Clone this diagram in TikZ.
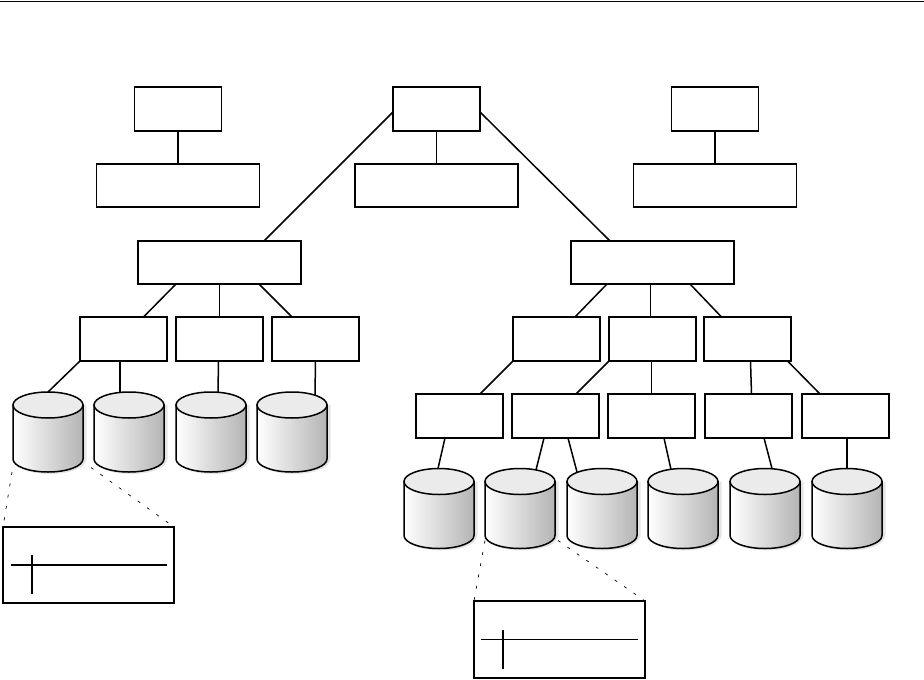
\documentclass[tikz,border=0pt]{standalone}
\usepackage{xcolor}
\definecolor{DiskTop}{HTML}{EBEBEB}
\definecolor{DiskSide}{HTML}{B4B4B4}
\usepackage{tikz}
\usetikzlibrary{positioning}
\tikzset{
  smallbox/.style={
    draw=black,
    fill=white,
    line width=1.5pt,
    inner sep=0pt,
    outer sep=0pt,
    minimum width=87pt,
    minimum height=44pt
  },
  widebox/.style={
    smallbox,
    minimum width=163pt,
    minimum height=43pt
  },
  detailbox/.style={
    smallbox,
    minimum width=171pt,
    minimum height=76pt
  },
  diskframe/.style={
    inner sep=0pt,
    outer sep=0pt,
    minimum width=70pt,
    minimum height=80pt
  },
  link/.style={
    line width=1.5pt,
    draw=black
  },
  zoomlink/.style={
    line width=0.7pt,
    draw=black,
    dash pattern=on 3pt off 8.5pt
  }
}
% disk: soft shadow, shaded body, light lid
\newcommand{\disknode}[2][]{
  \node[diskframe,#1] (#2) {};
  \fill[black!10] ([xshift=3.5pt,yshift=-13pt]#2.north west) -- ++(0,54) arc[start angle=180,end angle=360,x radius=35pt,y radius=13pt] -- ++(0,-54) -- cycle;
  \fill[black!10] ([xshift=2pt,yshift=-15pt]#2.north west) -- ++(0,54) arc[start angle=180,end angle=360,x radius=35pt,y radius=13pt] -- ++(0,-54) -- cycle;
  \draw[link,left color=white,right color=DiskSide] ([yshift=-13pt]#2.north west) -- ++(0,54) arc[start angle=180,end angle=360,x radius=35pt,y radius=13pt] -- ++(0,-54) -- cycle;
  \draw[link,fill=DiskTop] ([yshift=-13pt]#2.north) ellipse[x radius=35pt,y radius=13pt];
}

\begin{document}
\begin{tikzpicture}[x=1pt,y=-1pt,node distance=33pt and 8pt]
\useasboundingbox (0,0) rectangle (924,680);
\draw[line width=1pt] (0,1) -- (924,1);
% top row
\node[smallbox] (sitea) at (178,109) {};
\node[smallbox] (siteb) at (436.5,109) {};
\node[smallbox] (sitec) at (715,109) {};
\node[widebox, below=of sitea] (notea) {};
\node[widebox, below=of siteb] (noteb) {};
\node[widebox, below=of sitec] (notec) {};
% hubs
\node[widebox] (hubleft) at (219.5,262.5) {};
\node[widebox] (hubright) at (652.5,262.5) {};
% second row
\node[smallbox, below=of hubleft] (lb) {};
\node[smallbox, left=9pt of lb] (la) {};
\node[smallbox, right=9pt of lb] (lc) {};
\node[smallbox, below=of hubright] (rb) {};
\node[smallbox, left=9pt of rb] (ra) {};
\node[smallbox, right=of rb] (rc) {};
% third row
\node[smallbox, below=of ra, xshift=-1pt] (tb) {};
\node[smallbox, left=9pt of tb] (ta) {};
\node[smallbox, right=9pt of tb] (tc) {};
\node[smallbox, right=10pt of tc] (td) {};
\node[smallbox, right=10pt of td] (te) {};
% disks
\disknode[at={(48,432)}]{da}
\disknode[right=11pt of da]{db}
\disknode[right=12pt of db]{dc}
\disknode[right=11pt of dc]{dd}
\disknode[at={(439,508.5)}]{ea}
\disknode[right=11pt of ea]{eb}
\disknode[right=12pt of eb]{ec}
\disknode[right=11pt of ec]{ed}
\disknode[right=12pt of ed]{ee}
\disknode[right=12pt of ee]{ef}
% detail boxes
\node[detailbox] (detaila) at (88.5,565) {};
\node[detailbox, minimum height=77pt] (detailb) at (559.5,639.5) {};
% links
\draw[link] (sitea) -- (notea);
\draw[link] (siteb) -- (noteb);
\draw[link] (sitec) -- (notec);
\draw[link] ([yshift=-3pt]siteb.west) -- ([xshift=44.5pt]hubleft.north);
\draw[link] ([yshift=-3pt]siteb.east) -- ([xshift=-42.5pt]hubright.north);
\draw[link] ([xshift=-43.5pt]hubleft.south) -- ([xshift=20pt]la.north);
\draw[link] (hubleft) -- (lb);
\draw[link] ([xshift=39.5pt]hubleft.south) -- ([xshift=-23.5pt]lc.north);
\draw[link] ([xshift=-2pt]hubright.south) -- ([xshift=-2pt]rb.north);
\draw[link] ([xshift=-45.5pt]hubright.south) -- ([xshift=18.5pt]ra.north);
\draw[link] ([xshift=37.5pt]hubright.south) -- ([xshift=-26pt]rc.north);
\draw[link] (ra.south west) -- ([xshift=20.5pt]ta.north);
\draw[link] (rb.south west) -- ([xshift=20.5pt]tb.north);
\draw[link] ([xshift=-1pt]rb.south) -- ([xshift=0pt]tc.north);
\draw[link] ([xshift=3pt]rc.south) -- ([xshift=3pt]td.north);
\draw[link] ([xshift=40pt]rc.south) -- ([xshift=-25.5pt]te.north);
\draw[link] (la.south west) -- (da.north);
\draw[link] ([xshift=-3.5pt]la.south) -- ([xshift=-9pt,yshift=-0.5pt]db.north);
\draw[link] ([xshift=-1pt]lb.south) -- ([xshift=7pt]dc.north);
\draw[link] (lc.south) -- ([xshift=23pt,yshift=-3pt]dd.north);
\draw[link] ([xshift=-14.5pt]ta.south) -- ([xshift=-1pt]ea.north);
\draw[link] ([xshift=-11.5pt]tb.south) -- ([xshift=16pt,yshift=-1.5pt]eb.north);
\draw[link] ([xshift=12.5pt]tb.south) -- ([xshift=-25pt,yshift=-3.5pt]ec.north);
\draw[link] ([xshift=12.5pt]tc.south) -- ([xshift=-12pt,yshift=-1pt]ed.north);
\draw[link] ([xshift=15.5pt]td.south) -- ([xshift=7pt]ee.north);
\draw[link] ([xshift=1.5pt]te.south) -- (ef.north);
% zoom lines to the detail boxes
\draw[zoomlink] ([xshift=-1pt]da.south west) -- (detaila.north west);
\draw[zoomlink] ([xshift=8pt,yshift=4.5pt]da.south east) -- (detaila.north east);
\draw[zoomlink] ([yshift=8pt]eb.south west) -- (detailb.north west);
\draw[zoomlink] ([xshift=3pt,yshift=8pt]eb.south east) -- (detailb.north east);
% lines inside the detail boxes
\draw[link] ([xshift=8pt]detaila.west) -- ([xshift=-7pt]detaila.east);
\draw[link] ([shift={(-56.5pt,10pt)}]detaila.center) -- ([shift={(-56.5pt,-29pt)}]detaila.center);
\draw[link] ([xshift=7pt]detailb.west) -- ([xshift=-7pt]detailb.east);
\draw[link] ([shift={(-56.5pt,9.5pt)}]detailb.center) -- ([shift={(-56.5pt,-29.5pt)}]detailb.center);
\end{tikzpicture}
\end{document}
